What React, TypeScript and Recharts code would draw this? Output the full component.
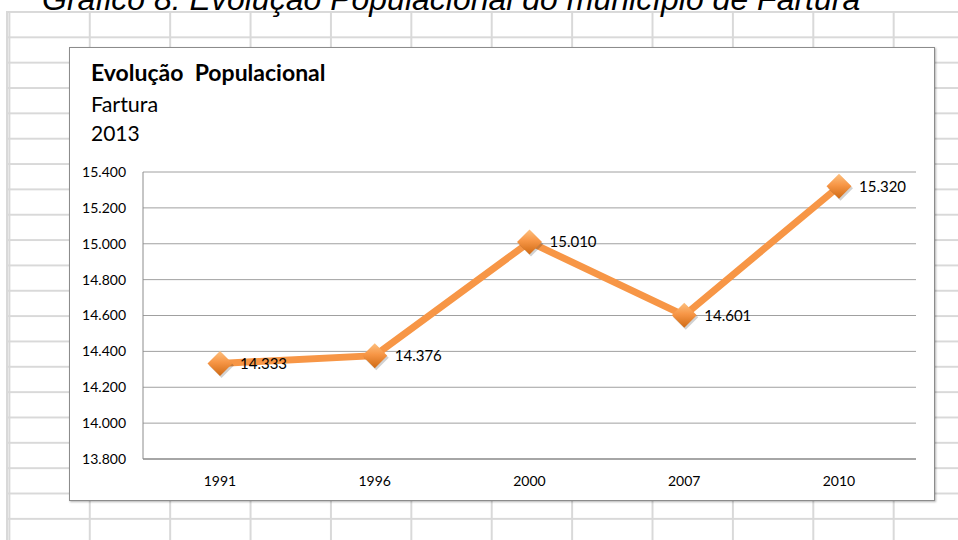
import React from 'react';
import { LineChart, Line, XAxis, YAxis, CartesianGrid, LabelList } from 'recharts';

const years = ['1991', '1996', '2000', '2007', '2010'];
const population = [14333, 14376, 15010, 14601, 15320];
const yTicks = [13800, 14000, 14200, 14400, 14600, 14800, 15000, 15200, 15400];

const data = years.map((year, i) => ({ year, pop: population[i] }));

const fmt = (v: number) => String(v).replace(/\B(?=(\d{3})+(?!\d))/g, '.');

const font = 'Lato, "Noto Sans", sans-serif';

// losango laranja com degradê, estilo Excel
const Diamond = (props: any) => {
  const { cx, cy } = props;
  if (cx == null || cy == null) return null;
  const r = 12.5;
  return (
    <g>
      <polygon
        points={`${cx + 1.5},${cy - r + 2} ${cx + r + 1.5},${cy + 2} ${cx + 1.5},${cy + r + 2} ${cx - r + 1.5},${cy + 2}`}
        fill="rgba(0,0,0,0.18)"
      />
      <polygon
        points={`${cx},${cy - r} ${cx + r},${cy} ${cx},${cy + r} ${cx - r},${cy}`}
        fill="url(#diamondFill)"
      />
    </g>
  );
};

function App() {
  return (
    <div style={{ position: 'absolute', left: 0, top: 0, width: 958, height: 540, overflow: 'hidden', background: '#fff' }}>
      {/* planilha ao fundo */}
      <div
        style={{
          position: 'absolute',
          left: 6,
          top: 11,
          width: 952,
          height: 529,
          backgroundImage:
            'linear-gradient(to right, #d9d9d9 0, #d9d9d9 2px, transparent 2px), linear-gradient(to bottom, #d9d9d9 0, #d9d9d9 2px, transparent 2px)',
          backgroundSize: '80.4px 100%, 100% 25.35px',
          backgroundPosition: '2.4px 0, 0 0',
        }}
      />
      <div style={{ position: 'absolute', left: 6, top: 11, width: 2, height: 529, background: '#d9d9d9' }} />
      <div
        style={{
          position: 'absolute',
          left: 42,
          top: -17,
          fontFamily: '"Liberation Sans", Arial, sans-serif',
          fontStyle: 'italic',
          fontSize: 32,
          lineHeight: '32px',
          whiteSpace: 'nowrap',
          color: '#000',
        }}
      >
        Gráfico 8: Evolução Populacional do município de Fartura
      </div>

      <div
        style={{
          position: 'absolute',
          left: 69,
          top: 47,
          width: 864,
          height: 452,
          background: '#fff',
          border: '1px solid #8c8c8c',
          boxShadow: '1px 1px 2px rgba(0,0,0,0.3)',
        }}
      >
        <svg width={864} height={120} style={{ position: 'absolute', left: 0, top: 0 }}>
          <text x={21} y={33} fontFamily={font} fontWeight={700} fontSize={23} fill="#000" style={{ whiteSpace: 'pre' }}>
            Evolução  Populacional
          </text>
          <text x={21} y={64} fontFamily={font} fontSize={21.5} fill="#000">Fartura</text>
          <text x={21} y={93} fontFamily={font} fontSize={21} fill="#000">2013</text>
        </svg>
        <LineChart
          width={864}
          height={452}
          data={data}
          margin={{ top: 124, right: 18, bottom: 11, left: 13 }}
          style={{ position: 'absolute', left: 0, top: 0 }}
        >
          <defs>
            <linearGradient id="diamondFill" x1="0" y1="0" x2="0" y2="1">
              <stop offset="0%" stopColor="#fdc07f" />
              <stop offset="45%" stopColor="#f79646" />
              <stop offset="100%" stopColor="#cf6a14" />
            </linearGradient>
          </defs>
          <CartesianGrid vertical={false} stroke="#a0a0a0" strokeWidth={1} />
          <XAxis
            dataKey="year"
            height={30}
            padding={{ left: 77, right: 77 }}
            tickLine={false}
            tickSize={0}
            tickMargin={17}
            axisLine={{ stroke: '#a6a6a6', strokeWidth: 2 }}
            tick={{ fontFamily: font, fontSize: 14, fill: '#000' }}
          />
          <YAxis
            domain={[13800, 15400]}
            ticks={yTicks}
            interval={0}
            width={60}
            tickLine={false}
            tickSize={0}
            tickMargin={17}
            axisLine={{ stroke: '#8c8c8c' }}
            tickFormatter={fmt}
            tick={{ fontFamily: font, fontSize: 14, fill: '#000' }}
          />
          <Line
            type="linear"
            dataKey="pop"
            stroke="#f79646"
            strokeWidth={7}
            dot={<Diamond />}
            activeDot={false}
            isAnimationActive={false}
          >
            <LabelList
              dataKey="pop"
              position="right"
              offset={20}
              formatter={(v: any) => fmt(Number(v))}
              style={{ fontFamily: font, fontSize: 15, fill: '#000' }}
            />
          </Line>
        </LineChart>
      </div>
    </div>
  );
}

export default App;
